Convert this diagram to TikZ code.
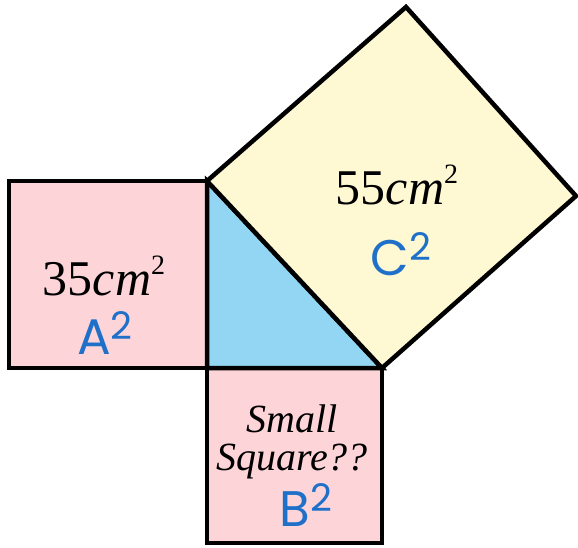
\documentclass[tikz,border=0pt]{standalone}
\usepackage{fontspec}
\setmainfont{Liberation Serif}
\newfontfamily\handfont{Poppins}
\definecolor{sqpink}{HTML}{FDD5D9}
\definecolor{triblue}{HTML}{93D6F3}
\definecolor{sqyellow}{HTML}{FEF8D3}
\definecolor{penblue}{HTML}{1F70C8}
\newcommand{\sqsup}[1]{\raisebox{0.42em}{\fontsize{28}{30}\selectfont #1}}
\newcommand{\handsup}[1]{\raisebox{0.3em}{\fontsize{38}{40}\selectfont #1}}
\tikzset{
  sqbox/.style={draw=black, line width=4.5pt, line join=miter},
  arealabel/.style={font=\fontsize{50}{54}\selectfont, inner sep=0pt},
  smalllabel/.style={font=\fontsize{40}{38}\selectfont\itshape, align=center, inner sep=0pt},
  handlabel/.style={font=\fontsize{50}{52}\selectfont\handfont, text=penblue, inner sep=0pt, text depth=0pt}
}
\begin{document}
\begin{tikzpicture}[x=1pt,y=-1pt]
\useasboundingbox (0,0) rectangle (578,547);
% vertices
\coordinate (T) at (207,181);
\coordinate (R) at (207,368);
\coordinate (Q) at (382,368);
% left square
\filldraw[sqbox, fill=sqpink] (9,181) rectangle (207,368);
% bottom square
\filldraw[sqbox, fill=sqpink] (207,368) rectangle (382,543);
% triangle
\filldraw[sqbox, fill=triblue] (T) -- (R) -- (Q) -- cycle;
% hypotenuse square
\filldraw[sqbox, fill=sqyellow] (T) -- (406,7) -- (576,196) -- (Q) -- cycle;
% labels
\node[arealabel] (a) at (104,276) {35\textit{cm}\sqsup{2}};
\node[arealabel] (c) at (397,185) {55\textit{cm}\sqsup{2}};
\node[smalllabel] (b) at (292,442) {Small\\Square??};
\node[handlabel] (ha) at (105,333) {A\handsup{2}};
\node[handlabel] (hc) at (401,254) {C\handsup{2}};
\node[handlabel] (hb) at (306,505) {B\handsup{2}};
\end{tikzpicture}
\end{document}
